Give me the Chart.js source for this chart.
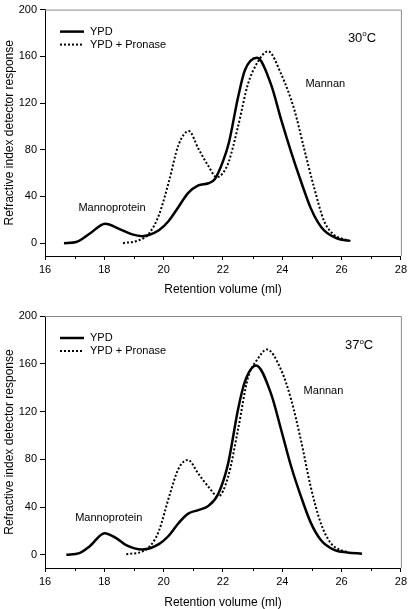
<!DOCTYPE html>
<html>
<head>
<meta charset="utf-8">
<script src="https://cdn.jsdelivr.net/npm/chart.js@4.4.0/dist/chart.umd.min.js"></script>
<style>
  html, body { margin: 0; padding: 0; background: #fff; }
  #wrap { position: relative; width: 410px; height: 609px; }
  canvas { position: absolute; left: 0; }
</style>
</head>
<body>
<div id="wrap">
  <canvas id="chart30" width="410" height="305" style="top:0"></canvas>
  <canvas id="chart37" width="410" height="305" style="top:304px"></canvas>
</div>
<script>
const X_TICKS = [16, 18, 20, 22, 24, 26, 28];
const X_MINOR = [17, 19, 21, 23, 25, 27];
const Y_TICKS = [0, 40, 80, 120, 160, 200];
const SERIES = ['YPD', 'YPD + Pronase'];

// 30 oC
const ypd30X = [16.64, 17.05, 17.5, 18.03, 18.5, 18.94, 19.28, 19.5, 19.84, 20.17, 20.5, 20.83, 21.17, 21.51, 21.73, 22.0, 22.2, 22.51, 22.74, 23.15, 23.62, 23.96, 24.3, 24.63, 24.96, 25.2, 25.41, 25.86, 26.25];
const ypd30Y = [0, 1, 8, 16.7, 12.3, 7.5, 6, 7, 11, 19, 31, 43, 49.5, 51.3, 55, 70, 86, 125, 148, 158.7, 136, 106, 78, 53, 30, 18, 11, 4, 2];
const pro30X = [18.63, 19.17, 19.5, 19.84, 20.17, 20.5, 20.85, 21.17, 21.51, 21.79, 22.0, 22.2, 22.51, 22.84, 23.17, 23.52, 23.96, 24.41, 24.74, 25.08, 25.41, 25.75, 26.0, 26.36];
const pro30Y = [0, 2.5, 8, 24, 52, 84, 96, 81, 66, 56.5, 60, 70, 100, 136, 155, 164.3, 145, 114, 80.6, 47, 19, 7, 4, 1.5];

// 37 oC
const ypd37X = [16.72, 17.16, 17.5, 18.01, 18.4, 18.72, 19.28, 19.84, 20.17, 20.5, 20.83, 21.17, 21.51, 21.84, 22.17, 22.51, 22.74, 23.12, 23.62, 23.96, 24.3, 24.63, 24.96, 25.3, 25.75, 26.19, 26.69];
const ypd37Y = [0, 1.4, 7, 18.2, 14, 8.4, 4.5, 9, 16, 26.5, 34.5, 37.5, 41, 51, 76, 122, 145, 158.5, 135, 105, 74, 49, 27, 12.5, 4.2, 2, 1];
const pro37X = [18.74, 19.28, 19.6, 19.84, 20.2, 20.5, 20.82, 21.17, 21.51, 21.84, 22.17, 22.51, 22.84, 23.17, 23.48, 23.96, 24.3, 24.63, 24.96, 25.3, 25.63, 25.97, 26.2];
const pro37Y = [0.6, 2.8, 9, 20, 50, 72, 79.5, 68, 57, 49, 65, 105, 148, 164, 172, 155, 130, 96, 57, 26.5, 10, 4, 2.5];

const FONT = 'Liberation Sans, Arial, sans-serif';

function pts(xs, ys) {
  return xs.map((x, i) => ({ x: x, y: ys[i] }));
}

const decor = {
  id: 'decor',
  afterDraw(chart, args, opts) {
    const { ctx, chartArea: a, scales: { x, y } } = chart;
    ctx.save();
    // top and right frame
    ctx.strokeStyle = '#8a8a8a';
    ctx.lineWidth = 1;
    ctx.beginPath();
    ctx.moveTo(a.left, a.top + 0.5);
    ctx.lineTo(a.right + 0.5, a.top + 0.5);
    ctx.lineTo(a.right + 0.5, a.bottom);
    ctx.stroke();
    // minor x ticks
    ctx.strokeStyle = '#000';
    ctx.beginPath();
    X_MINOR.forEach(v => {
      const px = Math.round(x.getPixelForValue(v)) + 0.5;
      ctx.moveTo(px, a.bottom);
      ctx.lineTo(px, a.bottom + 3);
    });
    ctx.stroke();

    // legend
    ctx.font = '11px ' + FONT;
    ctx.fillStyle = '#000';
    ctx.textBaseline = 'middle';
    ctx.textAlign = 'left';
    chart.data.datasets.forEach((ds, i) => {
      const ly = a.top + 22 + i * 13;
      ctx.beginPath();
      ctx.lineWidth = ds.borderWidth;
      ctx.setLineDash(ds.borderDash || []);
      ctx.moveTo(a.left + 15, ly);
      ctx.lineTo(a.left + 39, ly);
      ctx.stroke();
      ctx.setLineDash([]);
      ctx.fillText(ds.label, a.left + 45, ly);
    });

    // notes
    ctx.textAlign = 'center';
    opts.notes.forEach(n => {
      ctx.fillText(n.text, x.getPixelForValue(n.x), y.getPixelForValue(n.y));
    });

    // temperature label with superscript o
    ctx.textAlign = 'left';
    const big = '13px ' + FONT, small = '8px ' + FONT;
    ctx.font = big;
    const w1 = ctx.measureText(opts.temp).width;
    const w3 = ctx.measureText('C').width;
    ctx.font = small;
    const w2 = ctx.measureText('o').width;
    let tx = x.getPixelForValue(opts.tempAt[0]) - (w1 + w2 + w3) / 2;
    const ty = y.getPixelForValue(opts.tempAt[1]);
    ctx.font = big;
    ctx.fillText(opts.temp, tx, ty);
    tx += w1;
    ctx.font = small;
    ctx.fillText('o', tx, ty - 4);
    tx += w2;
    ctx.font = big;
    ctx.fillText('C', tx, ty);
    ctx.restore();
  }
};

function makeChart(id, solid, dotted, cfg) {
  return new Chart(document.getElementById(id), {
    type: 'line',
    data: {
      datasets: [{
        label: SERIES[0],
        data: solid,
        borderColor: '#000',
        borderWidth: 2.5,
        pointRadius: 0,
        cubicInterpolationMode: 'monotone'
      }, {
        label: SERIES[1],
        data: dotted,
        borderColor: '#000',
        borderWidth: 2,
        borderDash: [2, 2],
        pointRadius: 0,
        cubicInterpolationMode: 'monotone'
      }]
    },
    options: {
      responsive: false,
      animation: false,
      layout: { padding: { top: cfg.padTop, right: 6, left: 0, bottom: 0 } },
      plugins: {
        legend: { display: false },
        tooltip: { enabled: false },
        decor: { notes: cfg.notes, temp: cfg.temp, tempAt: cfg.tempAt }
      },
      scales: {
        x: {
          type: 'linear',
          min: 16,
          max: 28,
          afterBuildTicks: s => { s.ticks = X_TICKS.map(v => ({ value: v })); },
          afterFit: s => { s.height = cfg.xHeight; },
          border: { display: true, color: '#000', width: 1 },
          grid: { drawOnChartArea: false, tickLength: 4, tickColor: '#000' },
          ticks: { color: '#000', font: { family: FONT, size: 11 }, padding: 3, maxRotation: 0 },
          title: {
            display: true,
            text: 'Retention volume (ml)',
            color: '#000',
            font: { family: FONT, size: 12, lineHeight: 1 },
            padding: { top: 0, bottom: cfg.titlePad }
          }
        },
        y: {
          min: -11,
          max: 200,
          afterBuildTicks: s => { s.ticks = Y_TICKS.map(v => ({ value: v })); },
          afterFit: s => { s.width = 45; },
          border: { display: true, color: '#000', width: 1 },
          grid: { drawOnChartArea: false, tickLength: 5, tickColor: '#000' },
          ticks: { color: '#000', font: { family: FONT, size: 11 }, padding: 3 },
          title: {
            display: true,
            text: 'Refractive index detector response',
            color: '#000',
            font: { family: FONT, size: 12, lineHeight: 1 },
            padding: { top: 4, bottom: 0 }
          }
        }
      }
    },
    plugins: [decor]
  });
}

makeChart('chart30', pts(ypd30X, ypd30Y), pts(pro30X, pro30Y), {
  padTop: 4, xHeight: 49, titlePad: 9,
  notes: [{ text: 'Mannoprotein', x: 18.26, y: 30 }, { text: 'Mannan', x: 25.45, y: 136 }],
  temp: '30', tempAt: [26.69, 175.5]
});

makeChart('chart37', pts(ypd37X, ypd37Y), pts(pro37X, pro37Y), {
  padTop: 12, xHeight: 41, titlePad: 0,
  notes: [{ text: 'Mannoprotein', x: 18.15, y: 31 }, { text: 'Mannan', x: 25.39, y: 137 }],
  temp: '37', tempAt: [26.59, 175]
});
</script>
</body>
</html>
